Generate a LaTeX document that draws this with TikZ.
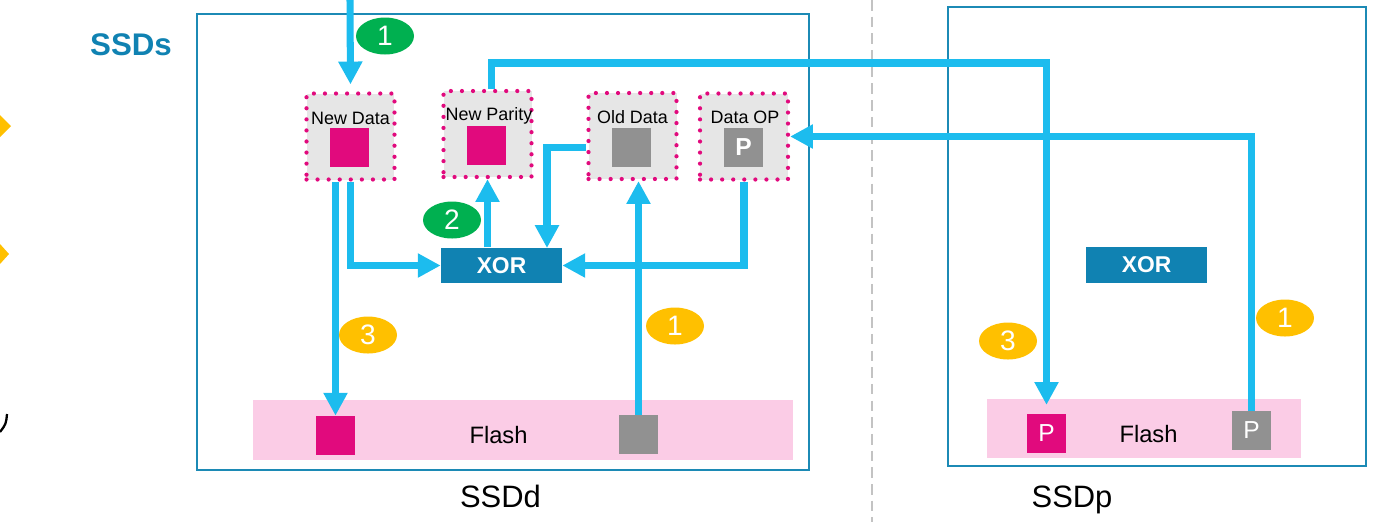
\documentclass[tikz,border=0pt]{standalone}
\usepackage{fontspec}
\setmainfont{Liberation Sans}
\usetikzlibrary{positioning,arrows.meta,shapes.geometric}
\definecolor{FlowBlue}{RGB}{28,188,238}
\definecolor{FrameTeal}{RGB}{28,138,181}
\definecolor{XorTeal}{RGB}{16,130,178}
\definecolor{DataMagenta}{RGB}{225,10,125}
\definecolor{DataGrey}{RGB}{145,145,145}
\definecolor{BufGrey}{RGB}{230,230,230}
\definecolor{FlashPink}{RGB}{251,204,230}
\definecolor{StepGreen}{RGB}{0,176,80}
\definecolor{StepYellow}{RGB}{255,192,0}
\definecolor{SplitGrey}{RGB}{195,195,195}

\begin{document}
\begin{tikzpicture}[x=0.02cm,y=-0.02cm]
  \tikzset{
    frame/.style={draw=FrameTeal, line width=1.3pt, inner sep=0},
    buf/.style={draw=DataMagenta, fill=BufGrey, line width=2.4pt, line cap=round,
      dash pattern=on 0pt off 6.3pt, minimum width=1.76cm, minimum height=1.72cm, inner sep=0},
    buflabel/.style={anchor=base, inner sep=0, font=\fontsize{10.2}{12}\selectfont},
    sq/.style={minimum size=0.78cm, inner sep=0, text=white, font=\fontsize{14}{16}\selectfont},
    xorbox/.style={fill=XorTeal, minimum width=2.42cm, minimum height=0.71cm, inner sep=0,
      text=white, font=\bfseries\fontsize{13}{15}\selectfont},
    flash/.style={fill=FlashPink, inner sep=0},
    flow/.style={draw=FlowBlue, line width=4pt, -{Triangle[width=13pt,length=13pt]}},
    badge/.style={ellipse, minimum width=1.16cm, minimum height=0.74cm, inner sep=0,
      text=white, font=\fontsize{16}{18}\selectfont},
    caption/.style={anchor=base, inner sep=0, font=\fontsize{17.6}{20}\selectfont}
  }
  \useasboundingbox (0,0) rectangle (1398,522);

  % cut-off bits at the left edge
  \fill[StepYellow] (0,115) -- (11,126) -- (0,137) -- cycle;
  \fill[StepYellow] (0,244) -- (9,254) -- (0,264) -- cycle;
  \draw[line width=1.3pt] (7,414) .. controls (6,424) .. (0,432);

  % split line
  \draw[SplitGrey, line width=1.1pt, dash pattern=on 6pt off 3.5pt] (872,0) -- (872,522);

  \node[caption, font=\bfseries\fontsize{17.8}{20}\selectfont, text=XorTeal] (ssds) at (131,55) {SSDs};

  % SSDd
  \node[frame, minimum width=12.24cm, minimum height=9.12cm] (ssdd) at (503,242) {};
  \node[caption] (ssddL) at (500.5,507) {SSDd};
  \node[flash, minimum width=10.8cm, minimum height=1.2cm] (flashd) at (523,430) {};
  \node[anchor=base, inner sep=0, font=\fontsize{13.5}{15}\selectfont] (flashdL) at (498.5,443) {Flash};
  \node[sq, fill=DataMagenta] (fmag) at (335.5,435.5) {};
  \node[sq, fill=DataGrey] (fgrey) at (638.5,434.5) {};

  \node[buf] (newdata) at (350.5,136.5) {};
  \node[buflabel] at (350.5,124) {New Data};
  \node[sq, fill=DataMagenta] (ndsq) at (349.5,147.5) {};

  \node[buf] (newparity) at (487.5,134) {};
  \node[buflabel] at (489,120) {New Parity};
  \node[sq, fill=DataMagenta] (npsq) at (486.5,145.5) {};

  \node[buf] (olddata) at (632.5,136) {};
  \node[buflabel] at (632.5,123) {Old Data};
  \node[sq, fill=DataGrey] (odsq) at (631.5,147.5) {};

  \node[buf] (dataop) at (744,136.5) {};
  \node[buflabel] at (745,123) {Data OP};
  \node[sq, fill=DataGrey, font=\bfseries\fontsize{14}{16}\selectfont] (dosq) at (743.5,147.5) {P};

  \node[xorbox] (xord) at (501.5,265.5) {XOR};
  \coordinate (xordin) at (547,248);

  % SSDp
  \node[frame, minimum width=8.36cm, minimum height=9.18cm] (ssdp) at (1157,236.5) {};
  \node[caption] (ssdpL) at (1072,507) {SSDp};
  \node[flash, minimum width=6.28cm, minimum height=1.18cm] (flashp) at (1144,428.5) {};
  \node[anchor=base, inner sep=0, font=\fontsize{13.5}{15}\selectfont] (flashpL) at (1148.5,442) {Flash};
  \node[sq, fill=DataMagenta] (ppink) at (1046.5,433.5) {P};
  \node[sq, fill=DataGrey] (pgrey) at (1251.5,430.5) {P};
  \node[xorbox] (xorp) at (1146.5,265) {XOR};

  % flows
  \coordinate (host) at (350,0);
  \coordinate (bus) at (0,63);
  \draw[flow, shorten >=4pt] (host) -- (newdata.north);
  \draw[flow] (newdata.south -| fmag.north) -- (fmag.north);
  \draw[flow] (newdata.south) |- (xord.west);
  \draw[flow] (newparity.south |- xord.north) -- (newparity.south);
  \draw[flow] (olddata.west |- odsq) -| (xordin);
  \draw[flow] (dataop.south) |- (xord.east);
  \draw[flow] (fgrey.north) -- (olddata.south -| fgrey.north);
  \draw[flow, shorten >=5pt] ([xshift=2.5pt]newparity.north) |- (bus -| ppink.north) -- (ppink.north);
  \draw[flow] (pgrey.north) |- (dataop.east);

  % steps
  \node[badge, fill=StepGreen] (g1) at (385,36) {1};
  \node[badge, fill=StepGreen] (g2) at (452,220) {2};
  \node[badge, fill=StepYellow] (y3d) at (368,335) {3};
  \node[badge, fill=StepYellow] (y1d) at (675,326) {1};
  \node[badge, fill=StepYellow] (y3p) at (1008,341) {3};
  \node[badge, fill=StepYellow] (y1p) at (1285,318) {1};
\end{tikzpicture}
\end{document}
